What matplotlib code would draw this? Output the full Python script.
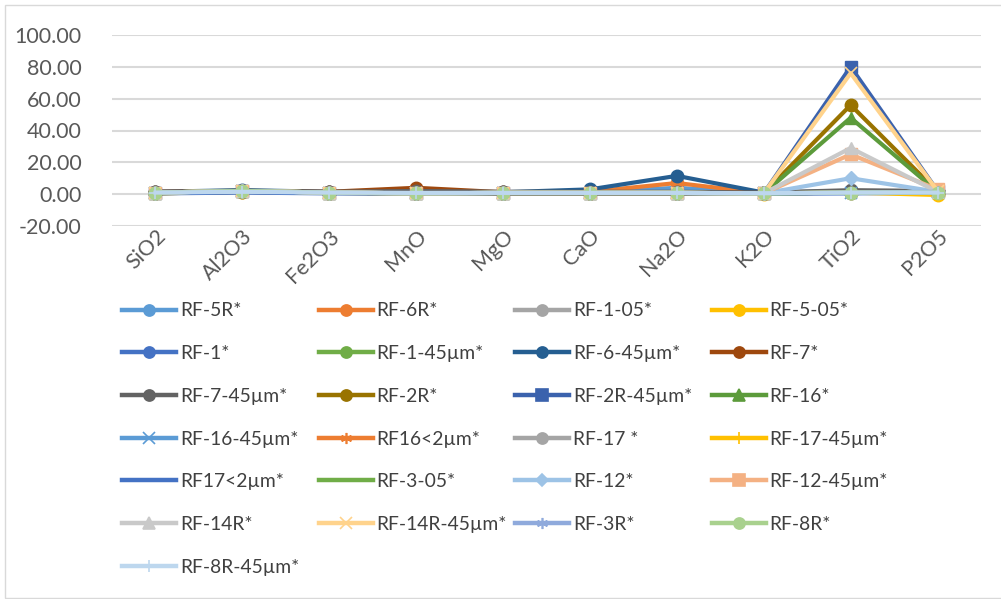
import matplotlib.pyplot as plt
from matplotlib.lines import Line2D
from matplotlib.patches import Rectangle
from matplotlib.transforms import ScaledTranslation

# oxidos
oxides = ["SiO2", "Al2O3", "Fe2O3", "MnO", "MgO", "CaO", "Na2O", "K2O", "TiO2", "P2O5"]

names = ["RF-5R*", "RF-6R*", "RF-1-05*", "RF-5-05*",
         "RF-1*", "RF-1-45µm*", "RF-6-45µm*", "RF-7*",
         "RF-7-45µm*", "RF-2R*", "RF-2R-45µm*", "RF-16*",
         "RF-16-45µm*", "RF16<2µm*", "RF-17 *", "RF-17-45µm*",
         "RF17<2µm*", "RF-3-05*", "RF-12*", "RF-12-45µm*",
         "RF-14R*", "RF-14R-45µm*", "RF-3R*", "RF-8R*",
         "RF-8R-45µm*"]

rf_5r      = [1.0, 1.8, 1.0, 0.8, 1.0, 1.2, 4.0, 0.6, 1.0, 1.0]
rf_6r      = [1.0, 2.0, 1.0, 0.8, 1.0, 1.5, 7.0, 0.6, 1.2, 1.0]
rf_1_05    = [1.0, 2.0, 1.2, 0.6, 0.8, 0.8, 0.8, 0.5, 1.5, 1.5]
rf_5_05    = [0.5, 1.5, 0.8, 0.5, 0.5, 0.5, 0.5, 0.3, 1.0, -0.5]
rf_1       = [1.0, 2.0, 1.0, 0.6, 0.8, 1.0, 1.0, 0.5, 1.5, 1.5]
rf_1_45    = [1.0, 2.2, 1.0, 0.6, 0.8, 1.0, 1.0, 0.5, 1.8, 1.5]
rf_6_45    = [1.5, 2.5, 1.5, 1.0, 1.2, 3.0, 11.5, 1.0, 2.0, 1.5]
rf_7       = [1.5, 2.0, 1.5, 4.0, 1.2, 1.0, 1.0, 0.8, 1.5, 1.5]
rf_7_45    = [1.5, 2.2, 1.5, 2.0, 1.5, 1.5, 1.5, 1.0, 2.5, 2.0]
rf_2r      = [0.5, 1.5, 0.8, 0.5, 0.5, 0.5, 0.5, 0.5, 56.0, 1.5]
rf_2r_45   = [1.0, 2.0, 1.0, 0.5, 0.8, 0.8, 0.8, 0.5, 80.0, 2.0]
rf_16      = [1.0, 2.0, 1.0, 0.5, 0.8, 0.8, 0.8, 0.5, 48.0, 1.5]
rf_16_45   = [1.0, 2.0, 1.0, 0.5, 0.8, 0.8, 0.8, 0.5, 1.0, 1.5]
rf16_2     = [1.0, 2.0, 1.0, 0.5, 0.8, 0.8, 0.8, 0.5, 1.0, 1.5]
rf_17      = [1.0, 2.0, 1.0, 0.5, 0.8, 0.8, 0.8, 0.5, 1.0, 1.5]
rf_17_45   = [1.0, 2.0, 1.0, 0.5, 0.8, 0.8, 0.8, 0.5, 1.0, 1.5]
rf17_2     = [0.5, 1.0, 0.5, 0.3, 0.5, 0.5, 0.5, 0.3, 0.5, 1.0]
rf_3_05    = [1.0, 2.0, 1.0, 0.5, 0.8, 0.8, 0.8, 0.5, 1.0, 1.5]
rf_12      = [1.0, 2.0, 1.0, 0.5, 0.8, 0.8, 0.8, 0.5, 10.0, 1.5]
rf_12_45   = [1.0, 2.0, 1.0, 0.5, 0.8, 0.8, 0.8, 0.5, 25.0, 3.0]
rf_14r     = [1.0, 2.0, 1.0, 0.5, 0.8, 0.8, 0.8, 0.5, 29.0, 1.5]
rf_14r_45  = [1.0, 2.0, 1.0, 0.5, 0.8, 0.8, 0.8, 0.5, 76.0, 2.0]
rf_3r      = [1.0, 2.0, 1.0, 0.5, 0.8, 0.8, 0.8, 0.5, 1.0, 1.5]
rf_8r      = [1.0, 2.0, 1.0, 0.5, 0.8, 0.8, 0.8, 0.5, 1.0, 1.0]
rf_8r_45   = [1.0, 1.5, 1.0, 0.8, 0.8, 0.8, 0.8, 0.6, 1.0, 1.0]

series = [rf_5r, rf_6r, rf_1_05, rf_5_05, rf_1, rf_1_45, rf_6_45, rf_7,
          rf_7_45, rf_2r, rf_2r_45, rf_16, rf_16_45, rf16_2, rf_17, rf_17_45,
          rf17_2, rf_3_05, rf_12, rf_12_45, rf_14r, rf_14r_45, rf_3r, rf_8r,
          rf_8r_45]

colors = ["#5B9BD5", "#ED7D31", "#A5A5A5", "#FFC000",
          "#4472C4", "#70AD47", "#255E91", "#9E480E",
          "#636363", "#997300", "#3B62AD", "#5C9B3B",
          "#5B9BD5", "#ED7D31", "#A5A5A5", "#FFC000",
          "#4472C4", "#70AD47", "#9DC3E6", "#F4B183",
          "#C9C9C9", "#FFD38C", "#8FAADC", "#A9D18E",
          "#BDD7EE"]
ast = (6, 2, 0)
markers = ["o", "o", "o", "o", "o", "o", "o", "o", "o", "o", "s", "^",
           "x", ast, "o", "+", None, None, "D", "s", "^", "x", ast, "o", "+"]

W, H = 1001, 599
plt.rcParams['font.family'] = ['Lato', 'DejaVu Sans']
fig = plt.figure(figsize=(W / 100, H / 100), dpi=100)
fig.patches.append(Rectangle((5 / W, 1 / H), 1.1, (H - 6) / H, transform=fig.transFigure,
                             fill=False, edgecolor="#D9D9D9", lw=1))

ax = fig.add_axes([112 / W, 1 - 226 / H, (981 - 112) / W, (226 - 35) / H])
x = list(range(len(oxides)))
for vals, c, m in zip(series, colors, markers):
    ms = 9
    mew = 1
    if m == "D":
        ms = 7
    if m in ("x", "+", ast):
        mew = 1.2
    ax.plot(x, vals, color=c, lw=3, marker=m, ms=ms, mec=c, mfc=c,
            mew=mew, solid_joinstyle="round", clip_on=False)

ax.set_ylim(-20, 100)
ax.set_yticks([-20, 0, 20, 40, 60, 80, 100])
ax.set_yticklabels(["%.2f" % v for v in ax.get_yticks()])
ax.set_xlim(-0.5, len(oxides) - 0.5)
ax.set_xticks(x)
ax.set_xticklabels(oxides, rotation=45, ha="right", va="top", rotation_mode="anchor")
off = ScaledTranslation(9 / 100, 1 / 100, fig.dpi_scale_trans)
for lb in ax.get_xticklabels():
    lb.set_transform(lb.get_transform() + off)
ax.tick_params(axis="both", length=0, labelsize=15.5, labelcolor="#595959")
ax.tick_params(axis="y", pad=22)
ax.tick_params(axis="x", pad=0)
ax.grid(axis="y", color="#D9D9D9", lw=1.5)
ax.set_axisbelow(True)
for s in ax.spines.values():
    s.set_visible(False)

# leyenda a mano, por filas como en Excel
for i, (lab, c, m) in enumerate(zip(names, colors, markers)):
    r, col = divmod(i, 4)
    x0 = 122 + col * 196.5
    yy = 1 - (309.5 + r * 42.7) / H
    ms = 8 if m != "D" else 6
    fig.add_artist(Line2D([x0 / W, (x0 + 27) / W, (x0 + 54) / W], [yy, yy, yy],
                          transform=fig.transFigure, color=c, lw=3.2, marker=m,
                          markevery=[1], ms=ms, mec=c, mfc=c, mew=1.2))
    fig.text((x0 + 58) / W, yy, lab, fontsize=13.9, color="#404040", va="center_baseline")

fig.savefig("out.png", dpi=100)
